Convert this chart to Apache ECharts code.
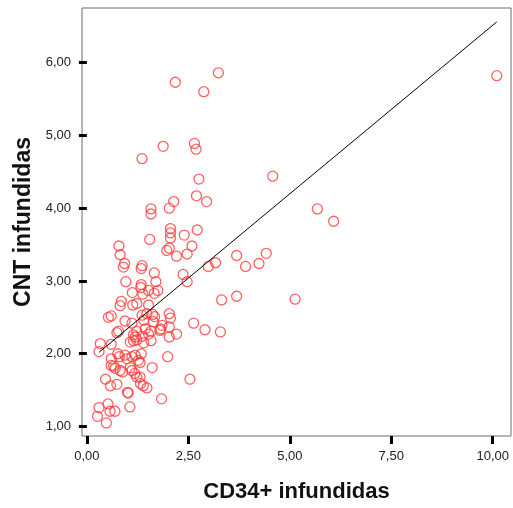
<!DOCTYPE html>
<html>
<head>
<meta charset="utf-8">
<script src="https://cdn.jsdelivr.net/npm/echarts@6/dist/echarts.min.js"></script>
<style>
html,body{margin:0;padding:0;background:#fff;}
#chart{width:513px;height:508px;}
</style>
</head>
<body>
<div id="chart"></div>
<script>
// CD34+ infundidas (x) values
const cd34 = [3.24,2.18,2.88,10.10,1.88,2.65,2.69,1.36,4.58,2.76,
  2.70,2.95,2.14,2.03,1.58,1.58,5.68,6.08,2.06,2.06,
  2.06,2.40,2.72,1.55,0.79,2.59,0.82,1.97,2.03,2.21,
  2.47,3.69,4.42,4.24,3.91,2.99,3.17,0.93,0.90,1.36,
  1.34,1.66,0.96,1.34,1.33,1.70,2.37,2.47,1.12,1.38,
  1.52,1.66,1.75,0.85,0.82,1.13,1.23,1.52,3.32,3.69,
  5.13,0.53,0.60,0.94,1.36,1.48,1.62,1.67,2.03,1.40,
  1.64,1.85,1.82,2.06,2.03,1.11,0.78,0.74,1.23,1.44,
  1.58,1.15,1.19,1.23,1.15,1.36,1.52,2.21,2.03,1.80,
  1.58,1.07,0.33,0.60,1.40,2.63,2.91,3.29,0.30,0.60,
  0.60,0.76,0.80,0.94,0.99,1.11,1.19,1.34,1.27,0.66,
  0.70,0.82,0.88,1.07,1.11,1.31,1.18,1.23,1.31,1.61,
  1.99,2.54,0.46,0.58,0.74,1.32,1.39,1.48,1.00,1.02,
  1.84,1.06,0.30,0.52,0.57,0.69,0.26,0.48];
// CNT infundidas (y) values
const cnt = [5.86,5.73,5.60,5.82,4.85,4.89,4.81,4.68,4.44,4.40,
  4.17,4.09,4.09,4.00,3.99,3.92,3.99,3.82,3.72,3.66,
  3.59,3.63,3.70,3.57,3.48,3.48,3.36,3.42,3.45,3.34,
  3.37,3.35,3.38,3.24,3.20,3.20,3.25,3.24,3.19,3.21,
  3.17,3.11,2.99,2.95,2.91,2.99,3.09,2.99,2.84,2.82,
  2.87,2.83,2.87,2.72,2.66,2.67,2.69,2.67,2.74,2.79,
  2.75,2.50,2.52,2.45,2.53,2.55,2.54,2.51,2.55,2.46,
  2.44,2.39,2.34,2.49,2.37,2.42,2.31,2.29,2.31,2.34,
  2.31,2.26,2.23,2.19,2.18,2.24,2.27,2.27,2.23,2.32,
  2.18,2.16,2.14,2.13,2.15,2.42,2.33,2.30,2.03,1.93,
  1.84,2.00,1.96,1.98,1.93,1.96,1.98,2.00,1.91,1.83,
  1.80,1.77,1.75,1.81,1.77,1.88,1.73,1.68,1.68,1.81,
  1.96,1.65,1.65,1.56,1.58,1.59,1.56,1.53,1.47,1.46,
  1.38,1.27,1.26,1.31,1.21,1.21,1.14,1.05];
// fitted line end points
const fitX = [0.30, 10.10];
const fitY = [2.02, 6.56];
// tick values
const xTicks = [0, 2.5, 5, 7.5, 10];
const yTicks = [1, 2, 3, 4, 5, 6];

const fmt = v => v.toFixed(2).replace('.', ',');
const chart = echarts.init(document.getElementById('chart'), null, {renderer: 'canvas'});
chart.setOption({
  animation: false,
  backgroundColor: '#ffffff',
  grid: {left: 82, top: 8, right: 2, bottom: 70, show: true, borderColor: '#6a6a6a', borderWidth: 1, backgroundColor: 'transparent'},
  xAxis: {
    type: 'value', min: -0.12, max: 10.45,
    name: 'CD34+ infundidas', nameLocation: 'middle', nameGap: 45,
    nameTextStyle: {fontFamily: 'Liberation Sans, Arial, sans-serif', fontWeight: 'bold', fontSize: 22, color: '#111'},
    axisLine: {show: false},
    splitLine: {show: false},
    axisTick: {show: true, customValues: xTicks, length: 8, lineStyle: {color: '#000', width: 3}},
    axisLabel: {customValues: xTicks, formatter: fmt, margin: 14, fontFamily: 'Liberation Sans, Arial, sans-serif', fontSize: 13, color: '#222'}
  },
  yAxis: {
    type: 'value', min: 0.87, max: 6.75,
    name: 'CNT infundidas', nameLocation: 'middle', nameGap: 46, nameRotate: 90,
    nameTextStyle: {fontFamily: 'Liberation Sans, Arial, sans-serif', fontWeight: 'bold', fontSize: 23, color: '#111'},
    axisLine: {show: false},
    splitLine: {show: false},
    axisTick: {show: true, customValues: yTicks, length: 8, lineStyle: {color: '#000', width: 3}},
    axisLabel: {customValues: yTicks, formatter: fmt, margin: 11, fontFamily: 'Liberation Sans, Arial, sans-serif', fontSize: 13, color: '#222'}
  },
  series: [
    {
      type: 'scatter',
      data: cd34.map((x, i) => [x, cnt[i]]),
      symbol: 'circle', symbolSize: 10,
      itemStyle: {color: 'transparent', borderColor: '#ff3b3b', borderWidth: 1.3},
      z: 3
    },
    {
      type: 'line',
      data: fitX.map((x, i) => [x, fitY[i]]),
      showSymbol: false, symbol: 'none',
      lineStyle: {color: '#000', width: 1},
      z: 4
    }
  ]
});
</script>
</body>
</html>
